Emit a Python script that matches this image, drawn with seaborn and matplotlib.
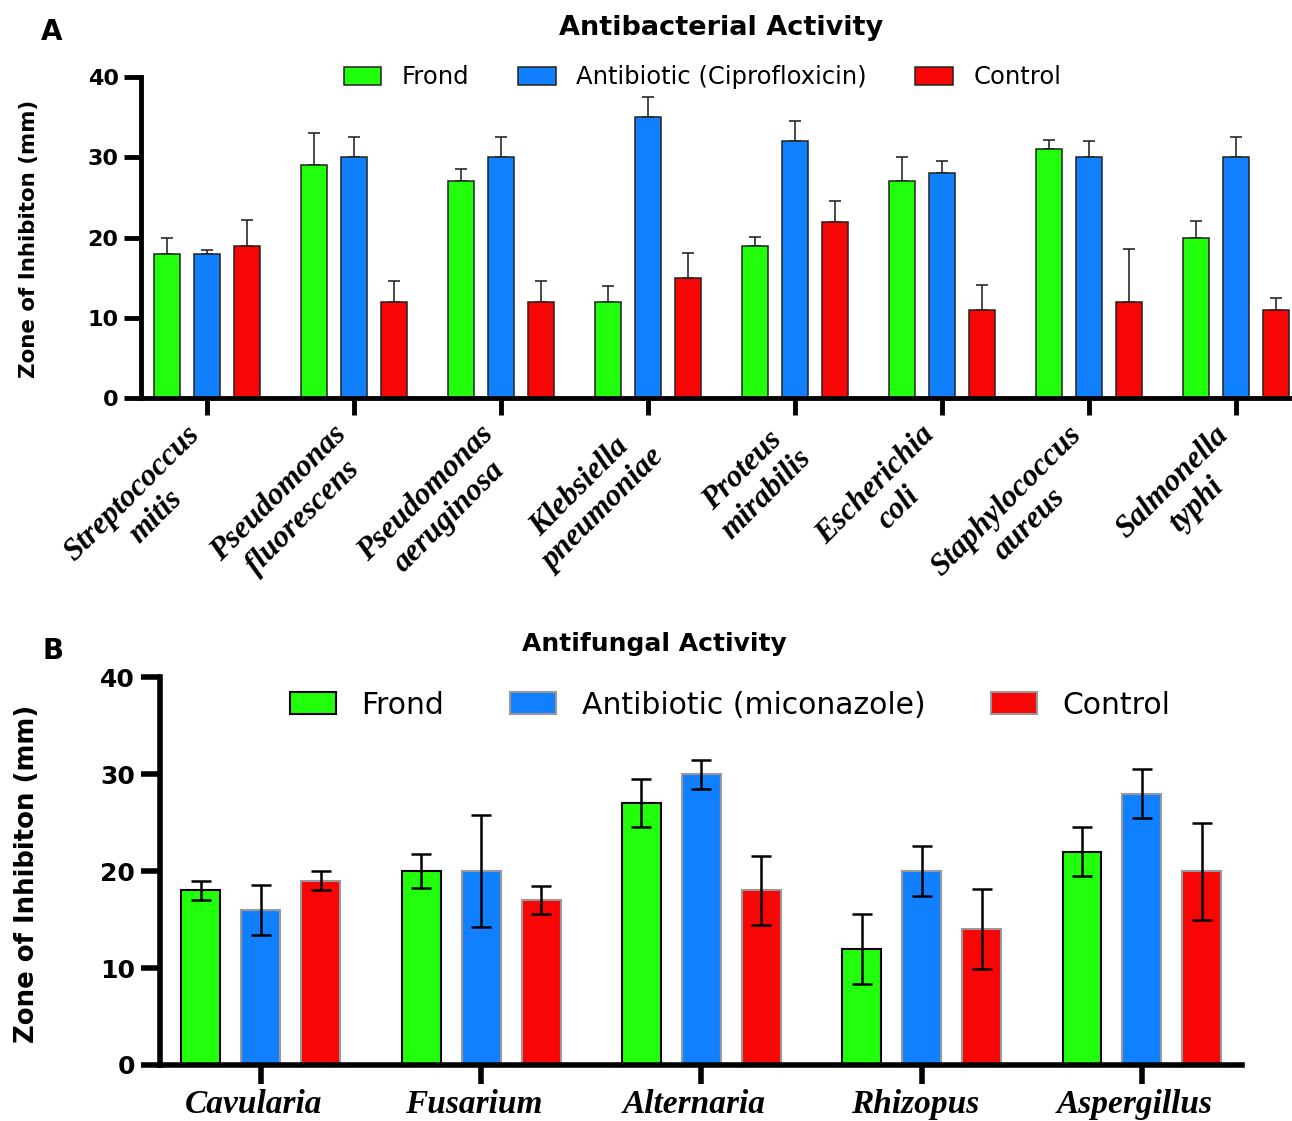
import pandas as pd
import seaborn as sns
import matplotlib.pyplot as plt
from matplotlib.transforms import ScaledTranslation

# ---- Antibacterial data (panel A) ----
bacteria = ["Streptococcus\nmitis", "Pseudomonas\nfluorescens", "Pseudomonas\naeruginosa",
            "Klebsiella\npneumoniae", "Proteus\nmirabilis", "Escherichia\ncoli",
            "Staphylococcus\naureus", "Salmonella\ntyphi"]
bact_frond = [18, 29, 27, 12, 19, 27, 31, 20]
bact_frond_err = [2.0, 4.0, 1.6, 2.0, 1.1, 3.1, 1.2, 2.1]
bact_anti = [18, 30, 30, 35, 32, 28, 30, 30]
bact_anti_err = [0.5, 2.6, 2.6, 2.6, 2.6, 1.6, 2.1, 2.6]
bact_ctrl = [19, 12, 12, 15, 22, 11, 12, 11]
bact_ctrl_err = [3.2, 2.6, 2.6, 3.1, 2.6, 3.1, 6.6, 1.4]
groups_a = ["Frond", "Antibiotic (Ciprofloxicin)", "Control"]

# ---- Antifungal data (panel B) ----
fungi = ["Cavularia", "Fusarium", "Alternaria", "Rhizopus", "Aspergillus"]
fung_frond = [18, 20, 27, 12, 22]
fung_frond_err = [1.0, 1.75, 2.5, 3.6, 2.5]
fung_anti = [16, 20, 30, 20, 28]
fung_anti_err = [2.6, 5.8, 1.5, 2.6, 2.5]
fung_ctrl = [19, 17, 18, 14, 20]
fung_ctrl_err = [1.0, 1.45, 3.6, 4.1, 5.0]
groups_b = ["Frond", "Antibiotic (miconazole)", "Control"]

colors = ["#22FF0C", "#1080FF", "#F80505"]


def long_table(names, series, labels):
    rows = []
    for lab, vals in zip(labels, series):
        for n, v in zip(names, vals):
            rows.append([n, lab, v])
    return pd.DataFrame(rows, columns=["Organism", "Treatment", "Zone"])


df_a = long_table(bacteria, [bact_frond, bact_anti, bact_ctrl], groups_a)
df_b = long_table(fungi, [fung_frond, fung_anti, fung_ctrl], groups_b)

sns.set_style("ticks")
plt.rcParams["font.family"] = ["DejaVu Sans"]
plt.rcParams["text.color"] = "black"
plt.rcParams["xtick.color"] = "black"
plt.rcParams["ytick.color"] = "black"

fig = plt.figure(figsize=(12.92, 11.21), dpi=100)
ax1 = fig.add_axes([0.1091, 0.6452, 0.8905, 0.2858])
ax2 = fig.add_axes([0.1238, 0.0500, 0.8375, 0.3459])

# ---------------- panel A ----------------
sns.barplot(data=df_a, x="Organism", y="Zone", hue="Treatment", palette=colors,
            saturation=1, width=0.817, gap=0.35, edgecolor="#222222", linewidth=1.1,
            errorbar=None, legend=False, ax=ax1)
bars_a = list(ax1.containers)
for cont, err in zip(bars_a, [bact_frond_err, bact_anti_err, bact_ctrl_err]):
    xs = [p.get_x() + p.get_width() / 2 for p in cont]
    ys = [p.get_height() for p in cont]
    ax1.errorbar(xs, ys, yerr=[[0] * len(err), err], fmt="none", ecolor="#2a2a2a",
                 elinewidth=1.2, capsize=4.5, capthick=1.2, zorder=0.9)

ax1.set_ylim(0, 40)
ax1.set_yticks([0, 10, 20, 30, 40])
ax1.set_xlim(-0.45, 7.38)
ax1.set(xlabel=None, ylabel=None)
ax1.tick_params(axis="both", width=3.5, length=12, color="black")
ax1.tick_params(axis="y", labelsize=16, pad=4, labelcolor="black")
ax1.tick_params(axis="x", pad=20, labelcolor="black")
for lab in ax1.get_yticklabels():
    lab.set_fontweight("bold")
plt.setp(ax1.get_xticklabels(), rotation=45, ha="right", va="center",
         rotation_mode="anchor", family="Liberation Serif", style="italic",
         weight="bold", fontsize=22.5, multialignment="center")

ax1.legend(bars_a, groups_a, loc="center", bbox_to_anchor=(0.488, 1.0), ncol=3,
           frameon=False, fontsize=17.5, handlelength=1.55, handleheight=0.76,
           handletextpad=0.84, columnspacing=2.0, borderaxespad=0)

# ---------------- panel B ----------------
sns.barplot(data=df_b, x="Organism", y="Zone", hue="Treatment", palette=colors,
            saturation=1, width=0.817, gap=0.35, edgecolor="#999999", linewidth=1.5,
            errorbar=None, legend=False, ax=ax2)
bars_b = list(ax2.containers)
for p in bars_b[0]:
    p.set_edgecolor("black")
for cont, err in zip(bars_b, [fung_frond_err, fung_anti_err, fung_ctrl_err]):
    xs = [p.get_x() + p.get_width() / 2 for p in cont]
    ys = [p.get_height() for p in cont]
    ax2.errorbar(xs, ys, yerr=err, fmt="none", ecolor="black",
                 elinewidth=1.8, capsize=7.5, capthick=1.8, zorder=3)

ax2.set_ylim(0, 40)
ax2.set_yticks([0, 10, 20, 30, 40])
ax2.set_xlim(-0.458, 4.454)
ax2.set(xlabel=None, ylabel=None)
ax2.tick_params(axis="both", width=4, length=14, color="black")
ax2.tick_params(axis="y", labelsize=18, pad=4, labelcolor="black")
ax2.tick_params(axis="x", pad=3, labelcolor="black")
for lab in ax2.get_yticklabels():
    lab.set_fontweight("bold")
shift = ScaledTranslation(-7 / 100, 0, fig.dpi_scale_trans)
for lab in ax2.get_xticklabels():
    lab.set_transform(lab.get_transform() + shift)
plt.setp(ax2.get_xticklabels(), family="Liberation Serif", style="italic",
         weight="bold", fontsize=24)

ax2.legend(bars_b, groups_b, loc="center", bbox_to_anchor=(0.527, 0.928), ncol=3,
           frameon=False, fontsize=21.5, handlelength=1.54, handleheight=0.75,
           handletextpad=0.85, columnspacing=2.2, borderaxespad=0)

for ax, lw in [(ax1, 3.5), (ax2, 4)]:
    sns.despine(ax=ax)
    for side in ["left", "bottom"]:
        ax.spines[side].set_linewidth(lw)
        ax.spines[side].set_color("black")

# titles, panel letters, y labels
fig.text(721 / 1292, 1 - 28 / 1121, "Antibacterial Activity", fontsize=19.5,
         weight="bold", ha="center", va="center")
fig.text(654 / 1292, 1 - 644 / 1121, "Antifungal Activity", fontsize=18,
         weight="bold", ha="center", va="center")
fig.text(52 / 1292, 1 - 32 / 1121, "A", fontsize=20, weight="bold", ha="center", va="center")
fig.text(53 / 1292, 1 - 651 / 1121, "B", fontsize=20, weight="bold", ha="center", va="center")
fig.text(29 / 1292, 1 - 239 / 1121, "Zone of Inhibiton (mm)", fontsize=15.4,
         weight="bold", rotation=90, ha="center", va="center")
fig.text(27 / 1292, 1 - 874 / 1121, "Zone of Inhibiton (mm)", fontsize=18.7,
         weight="bold", rotation=90, ha="center", va="center")

fig.savefig("out.png", dpi=100, facecolor="white")
